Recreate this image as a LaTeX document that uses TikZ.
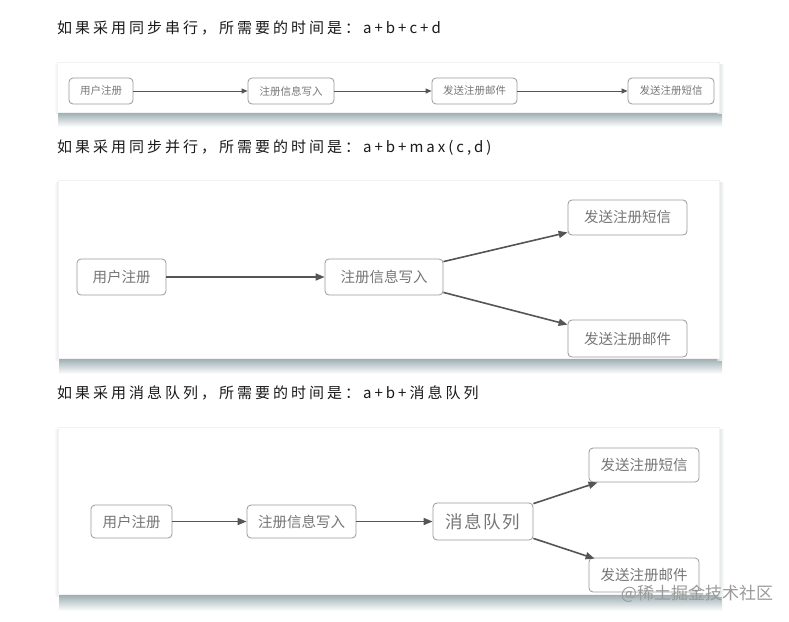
\documentclass[tikz,border=0pt]{standalone}
\usepackage{fontspec}
\setmainfont{Noto Sans CJK SC}
\usetikzlibrary{arrows.meta}
\definecolor{nodetext}{HTML}{767676}
\definecolor{nodeline}{HTML}{999999}
\definecolor{arrowc}{HTML}{555555}
\definecolor{shadowc}{HTML}{8CA0A5}
\definecolor{headc}{HTML}{1A1A1A}
\definecolor{markc}{HTML}{9A9A9A}
\tikzset{
  card/.style={fill=white, draw=black!5, line width=0.5pt},
  bottomshade/.style={top color=shadowc, bottom color=white, draw=none},
  sideshade/.style={left color=shadowc!40, right color=white, draw=none},
  leftshade/.style={left color=white, right color=shadowc!20, draw=none},
  heading/.style={anchor=west, inner sep=0pt, text=headc,
    font=\fontsize{15pt}{18pt}\selectfont\addfontfeature{LetterSpace=20}},
  flowbox/.style={draw=nodeline, rounded corners=4pt, line width=0.8pt, fill=white,
    text=nodetext, inner sep=0pt, align=center},
  smallbox/.style={flowbox, minimum height=26pt, font=\fontsize{10.5pt}{12pt}\selectfont},
  midbox/.style={flowbox, font=\fontsize{14.5pt}{17pt}\selectfont},
  bigbox/.style={flowbox, font=\fontsize{17.5pt}{20pt}\selectfont\addfontfeature{LetterSpace=8}},
  thinflow/.style={draw=arrowc, line width=1pt, -{Triangle[length=6pt,width=5pt]}},
  thickflow/.style={draw=arrowc, line width=1.6pt, -{Triangle[length=9pt,width=7pt]}},
  watermark/.style={text=markc, inner sep=0pt, font=\fontsize{17pt}{20pt}\selectfont}
}
\begin{document}
\begin{tikzpicture}[x=1pt,y=-1pt]
\useasboundingbox (0,0) rectangle (789,621);
\fill[white] (0,0) rectangle (789,621);

% ---------- panel 1 ----------
\node[heading] (h1) at (57,28) {如果采用同步串行，所需要的时间是：a+b+c+d};
\shade[bottomshade] (58,110) rectangle (722,127);
\shade[sideshade] (717,64) rectangle (724,113);
\shade[leftshade] (54,64) rectangle (58,113);
\draw[card] (57,62) rectangle (719,112);
\node[smallbox, minimum width=64pt] (p1a) at (101,91) {用户注册};
\node[smallbox, minimum width=86pt] (p1b) at (291,91) {注册信息写入};
\node[smallbox, minimum width=85pt] (p1c) at (474.5,91) {发送注册邮件};
\node[smallbox, minimum width=86pt] (p1d) at (671,91) {发送注册短信};
\draw[thinflow] (p1a) -- (p1b);
\draw[thinflow] (p1b) -- (p1c);
\draw[thinflow] (p1c) -- (p1d);

% ---------- panel 2 ----------
\node[heading] (h2) at (57,148) {如果采用同步并行，所需要的时间是：a+b+max(c,d)};
\shade[bottomshade] (59,356) rectangle (722,374);
\shade[sideshade] (717,182) rectangle (724,360);
\shade[leftshade] (54,182) rectangle (58,360);
\draw[card] (58,180) rectangle (719,358);
\node[midbox, minimum width=89pt, minimum height=36pt] (p2a) at (121.5,277) {用户注册};
\node[midbox, minimum width=118pt, minimum height=36pt] (p2b) at (384,277) {注册信息写入};
\node[midbox, minimum width=119pt, minimum height=35pt] (p2c) at (627.5,217.5) {发送注册短信};
\node[midbox, minimum width=119pt, minimum height=37pt] (p2d) at (627.5,338.5) {发送注册邮件};
\draw[thickflow] (p2a) -- (p2b);
\draw[thickflow] ([yshift=-3pt]p2b.north east) -- ([yshift=3pt]p2c.south west);
\draw[thickflow] ([yshift=3pt]p2b.south east) -- ([yshift=-5pt]p2d.north west);

% ---------- panel 3 ----------
\node[heading] (h3) at (57,393) {如果采用消息队列，所需要的时间是：a+b+消息队列};
\shade[bottomshade] (59,592) rectangle (722,611);
\shade[sideshade] (717,429) rectangle (724,596);
\shade[leftshade] (54,429) rectangle (58,596);
\draw[card] (58,427) rectangle (719,594);
\node[midbox, minimum width=81pt, minimum height=33pt] (p3a) at (131.5,521.5) {用户注册};
\node[midbox, minimum width=109pt, minimum height=33pt] (p3b) at (301.5,521.5) {注册信息写入};
\node[bigbox, minimum width=100pt, minimum height=37pt] (p3q) at (483,521.5) {消息队列};
\node[midbox, minimum width=110pt, minimum height=34pt] (p3c) at (644,465) {发送注册短信};
\node[midbox, minimum width=110pt, minimum height=34pt] (p3d) at (644,575) {发送注册邮件};
\draw[thickflow] (p3a) -- (p3b);
\draw[thickflow] (p3b) -- (p3q);
\draw[thickflow] ([yshift=-1pt]p3q.north east) -- ([xshift=9pt]p3c.south west);
\draw[thickflow] ([yshift=2pt]p3q.south east) -- ([xshift=6pt,yshift=-1pt]p3d.north west);

\node[watermark] (wm) at (697,594) {@稀土掘金技术社区};
\end{tikzpicture}
\end{document}
